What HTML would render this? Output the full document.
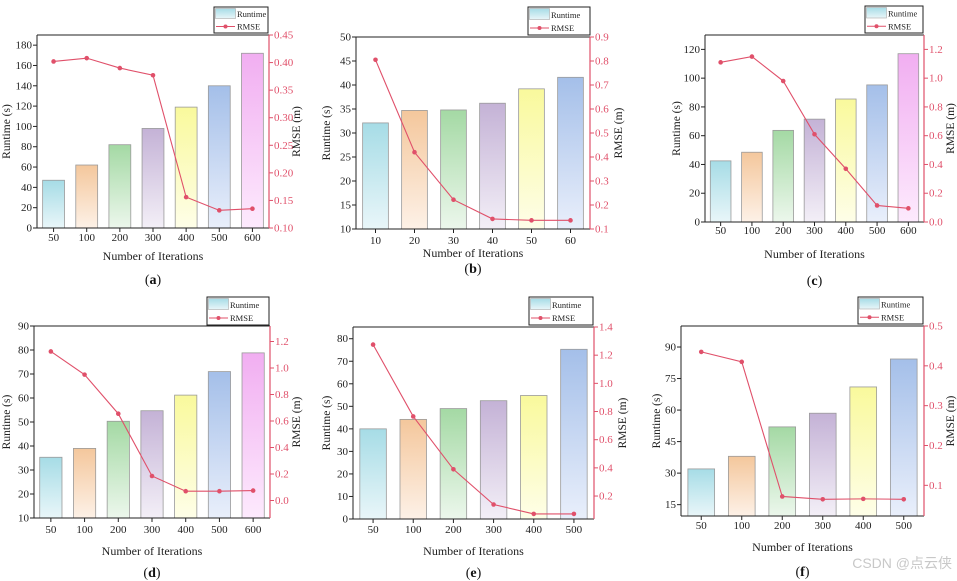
<!DOCTYPE html>
<html><head><meta charset="utf-8"><style>
body{margin:0;background:#fff;}
svg{display:block;font-family:"Liberation Serif",serif;}
</style></head><body>
<svg id="fig" width="957" height="581" viewBox="0 0 957 581" xmlns="http://www.w3.org/2000/svg">
<defs>
<linearGradient id="g0" x1="0" y1="0" x2="0" y2="1"><stop offset="0" stop-color="#a6dce6"/><stop offset="1" stop-color="#e9f6f9"/></linearGradient>
<linearGradient id="g1" x1="0" y1="0" x2="0" y2="1"><stop offset="0" stop-color="#f4c79c"/><stop offset="1" stop-color="#fdf1e7"/></linearGradient>
<linearGradient id="g2" x1="0" y1="0" x2="0" y2="1"><stop offset="0" stop-color="#a4d9a4"/><stop offset="1" stop-color="#ecf7ec"/></linearGradient>
<linearGradient id="g3" x1="0" y1="0" x2="0" y2="1"><stop offset="0" stop-color="#c4b2d6"/><stop offset="1" stop-color="#f3eff7"/></linearGradient>
<linearGradient id="g4" x1="0" y1="0" x2="0" y2="1"><stop offset="0" stop-color="#f9f99c"/><stop offset="1" stop-color="#fefee8"/></linearGradient>
<linearGradient id="g5" x1="0" y1="0" x2="0" y2="1"><stop offset="0" stop-color="#a4bfe9"/><stop offset="1" stop-color="#e9effb"/></linearGradient>
<linearGradient id="g6" x1="0" y1="0" x2="0" y2="1"><stop offset="0" stop-color="#f1aef1"/><stop offset="1" stop-color="#fdeafd"/></linearGradient>
</defs>
<text x="952" y="568" text-anchor="end" font-family="Liberation Sans, Noto Sans CJK SC, sans-serif" font-size="14" fill="#c8c8c8">CSDN @点云侠</text>
</svg>
<script>
// Panel a
const catsA = ["50","100","200","300","400","500","600"];
const runA = [47,62,82,98,119,140,172];
const rmseA = [0.402,0.408,0.390,0.377,0.156,0.132,0.135];
const lTicksA = [0,20,40,60,80,100,120,140,160,180];
const rTicksA = ["0.10","0.15","0.20","0.25","0.30","0.35","0.40","0.45"];
// Panel b
const catsB = ["10","20","30","40","50","60"];
const runB = [32.1,34.7,34.8,36.2,39.2,41.6];
const rmseB = [0.805,0.42,0.222,0.142,0.136,0.136];
const lTicksB = [10,15,20,25,30,35,40,45,50];
const rTicksB = ["0.1","0.2","0.3","0.4","0.5","0.6","0.7","0.8","0.9"];
// Panel c
const catsC = ["50","100","200","300","400","500","600"];
const runC = [42.5,48.5,63.7,71.5,85.5,95.3,117];
const rmseC = [1.11,1.15,0.98,0.61,0.37,0.115,0.095];
const lTicksC = [0,20,40,60,80,100,120];
const rTicksC = ["0.0","0.2","0.4","0.6","0.8","1.0","1.2"];
// Panel d
const catsD = ["50","100","200","300","400","500","600"];
const runD = [35.3,39,50.3,54.7,61.2,71,78.8];
const rmseD = [1.125,0.95,0.655,0.185,0.07,0.07,0.075];
const lTicksD = [10,20,30,40,50,60,70,80,90];
const rTicksD = ["0.0","0.2","0.4","0.6","0.8","1.0","1.2"];
// Panel e
const catsE = ["50","100","200","300","400","500"];
const runE = [40,44.2,49,52.5,54.8,75.3];
const rmseE = [1.275,0.765,0.39,0.14,0.073,0.073];
const lTicksE = [0,10,20,30,40,50,60,70,80];
const rTicksE = ["0.2","0.4","0.6","0.8","1.0","1.2","1.4"];
// Panel f
const catsF = ["50","100","200","300","400","500"];
const runF = [32,38,52,58.5,71,84.3];
const rmseF = [0.435,0.41,0.072,0.065,0.066,0.065];
const lTicksF = [15,30,45,60,75,90];
const rTicksF = ["0.1","0.2","0.3","0.4","0.5"];

const panels = [
 {id:"a",cats:catsA,run:runA,rmse:rmseA,lt:lTicksA,rt:rTicksA,L:37,R:269,T:35,B:228,ld:[0,190],rd:[0.10,0.45],lg:[214,7,268,33],xl:241,xt:260,lab:284,yt:10,rtx:300},
 {id:"b",cats:catsB,run:runB,rmse:rmseB,lt:lTicksB,rt:rTicksB,L:356,R:590,T:37,B:229,ld:[10,50],rd:[0.1,0.9],lg:[528,7,590,35],xl:244,xt:257,lab:273,yt:330,rtx:622},
 {id:"c",cats:catsC,run:runC,rmse:rmseC,lt:lTicksC,rt:rTicksC,L:705,R:924,T:35,B:222,ld:[0,130],rd:[0,1.3],lg:[865,6,923,33],xl:234,xt:258,lab:285,yt:680,rtx:954},
 {id:"d",cats:catsD,run:runD,rmse:rmseD,lt:lTicksD,rt:rTicksD,L:34,R:270,T:326,B:518,ld:[10,90],rd:[-0.132,1.317],lg:[207,297,269,325],xl:533,xt:555,lab:577,yt:10,rtx:300},
 {id:"e",cats:catsE,run:runE,rmse:rmseE,lt:lTicksE,rt:rTicksE,L:353,R:594,T:327,B:519,ld:[0,85.2],rd:[0.037,1.4],lg:[529,297,593,325],xl:533,xt:555,lab:577,yt:330,rtx:626},
 {id:"f",cats:catsF,run:runF,rmse:rmseF,lt:lTicksF,rt:rTicksF,L:681,R:924,T:326,B:516,ld:[9.6,100],rd:[0.023,0.5],lg:[858,297,923,324],xl:529,xt:551,lab:576,yt:660,rtx:954}
];
const NS="http://www.w3.org/2000/svg";
const svg=document.getElementById("fig");
const RED="#e0506a";
function mk(tag,attrs,parent){const e=document.createElementNS(NS,tag);for(const k in attrs)e.setAttribute(k,attrs[k]);(parent||svg).appendChild(e);return e;}
panels.forEach(p=>{
 const g=mk("g",{});
 
 
 const n=p.cats.length, band=(p.R-p.L)/n;
 const xC=i=>p.L+band*(i+0.5);
 const yL=v=>p.B-(v-p.ld[0])/(p.ld[1]-p.ld[0])*(p.B-p.T);
 const yR=v=>p.B-(v-p.rd[0])/(p.rd[1]-p.rd[0])*(p.B-p.T);
 const bw=band*0.66;
 p.run.forEach((v,i)=>{
  const r=mk("rect",{x:xC(i)-bw/2,y:yL(v),width:bw,height:p.B-yL(v),fill:"url(#g"+i+")",stroke:"#9a9a9a","stroke-width":0.8},g);
  
  
 });
 mk("line",{x1:p.L,y1:p.T,x2:p.L,y2:p.B,stroke:"#222","stroke-width":1},g);
 mk("line",{x1:p.L,y1:p.B,x2:p.R,y2:p.B,stroke:"#222","stroke-width":1},g);
 mk("line",{x1:p.L,y1:p.T,x2:p.R,y2:p.T,stroke:"#222","stroke-width":1},g);
 mk("line",{x1:p.R,y1:p.T,x2:p.R,y2:p.B,stroke:RED,"stroke-width":1.2},g);
 p.lt.forEach(v=>{
  const y=yL(v);
  mk("line",{x1:p.L-4,y1:y,x2:p.L,y2:y,stroke:"#222"},g);
  const t=mk("text",{x:p.L-5,y:y+3.5,"text-anchor":"end","font-size":11,fill:"#222"},g);
  t.textContent=v;
  
  
 });
 p.rt.forEach(s=>{
  const y=yR(parseFloat(s));
  mk("line",{x1:p.R,y1:y,x2:p.R+4,y2:y,stroke:RED},g);
  const t=mk("text",{x:p.R+5,y:y+3.5,"font-size":11,fill:RED},g);
  t.textContent=s;
  
  
 });
 p.cats.forEach((c,i)=>{
  mk("line",{x1:xC(i),y1:p.B,x2:xC(i),y2:p.B+4,stroke:"#222"},g);
  const t=mk("text",{x:xC(i),y:p.xl,"text-anchor":"middle","font-size":11,fill:"#222"},g);
  t.textContent=c;
  
  
 });
 const pts=p.rmse.map((v,i)=>xC(i)+","+yR(v)).join(" ");
 const pl=mk("polyline",{points:pts,fill:"none",stroke:RED,"stroke-width":1.1},g);
 
 
 p.rmse.forEach((v,i)=>{
  const c=mk("circle",{cx:xC(i),cy:yR(v),r:2.3,fill:RED},g);
  
  
 });
 const mid=(p.T+p.B)/2;
 const yt=mk("text",{x:p.yt,y:mid,"text-anchor":"middle","font-size":11.5,fill:"#222",transform:"rotate(-90 "+p.yt+" "+mid+")"},g);
 yt.textContent="Runtime (s)";
 
 
 const rtt=mk("text",{x:p.rtx,y:mid,"text-anchor":"middle","font-size":11.5,fill:"#222",transform:"rotate(-90 "+p.rtx+" "+mid+")"},g);
 rtt.textContent="RMSE (m)";
 
 
 const xt=mk("text",{x:(p.L+p.R)/2,y:p.xt,"text-anchor":"middle","font-size":12,fill:"#222"},g);
 xt.textContent="Number of Iterations";
 
 
 const lb=mk("text",{x:(p.L+p.R)/2,y:p.lab,"text-anchor":"middle","font-size":14,fill:"#111"},g);
 lb.innerHTML='(<tspan font-weight="bold">'+p.id+'</tspan>)';
 
 
 const [x1,y1,x2,y2]=p.lg;
 const lgG=mk("g",{},g);
 
 
 mk("rect",{x:x1,y:y1,width:x2-x1,height:y2-y1,fill:"#fff",stroke:"#222","stroke-width":1},lgG);
 const h=(y2-y1)/2;
 mk("rect",{x:x1+1.5,y:y1+1.5,width:20,height:h-3,fill:"url(#g0)",stroke:"#aaa","stroke-width":0.6},lgG);
 const t1=mk("text",{x:x1+23,y:y1+h-3,"font-size":8.5,fill:"#222"},lgG);
 t1.textContent="Runtime";
 
 
 mk("line",{x1:x1+2,y1:y1+h*1.5,x2:x1+21,y2:y1+h*1.5,stroke:RED,"stroke-width":1.1},lgG);
 mk("circle",{cx:x1+11.5,cy:y1+h*1.5,r:2,fill:RED},lgG);
 const t2=mk("text",{x:x1+23,y:y1+h*1.5+3,"font-size":8.5,fill:"#222"},lgG);
 t2.textContent="RMSE";
 
 
});
</script>
</body></html>
